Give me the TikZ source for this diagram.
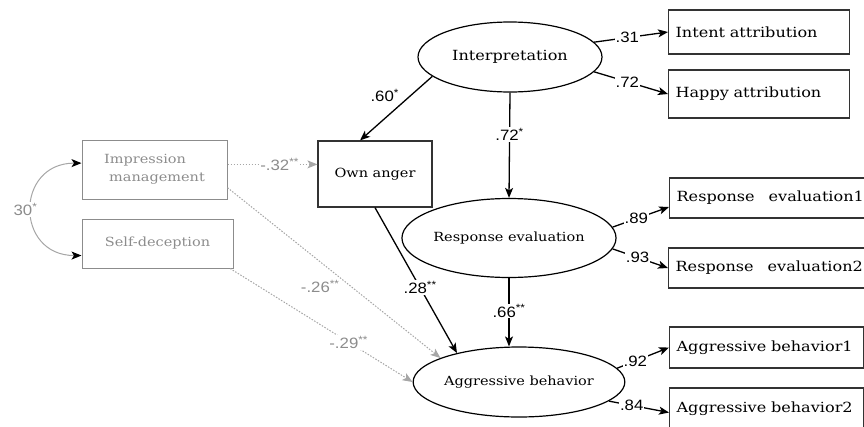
\documentclass[tikz,border=0pt]{standalone}
\usepackage{fontspec}
\newfontfamily\diagfont[FakeStretch=1.15]{DejaVu Serif}
\newfontfamily\coeffont[FakeStretch=1.12]{Liberation Sans}
\usetikzlibrary{shapes.geometric,arrows.meta}
\definecolor{faded}{gray}{0.55}
\definecolor{fadedline}{gray}{0.65}
\begin{document}
\begin{tikzpicture}[x=1pt,y=-1pt,
    latent/.style={ellipse,draw,line width=1.2pt,inner sep=0pt,font=\diagfont\fontsize{12.6}{15}\selectfont},
    mediator/.style={rectangle,draw=black!80,line width=1.2pt,font=\diagfont\fontsize{12.6}{15}\selectfont},
    observed/.style={rectangle,draw=black!80,line width=1.2pt,inner xsep=7pt,inner ysep=0pt,align=left,anchor=west,font=\diagfont\fontsize{14}{16}\selectfont},
    control/.style={rectangle,draw=faded,line width=1pt,text=faded,font=\diagfont\fontsize{12.6}{18}\selectfont},
    tip/.style={-{Stealth[length=10pt,width=8pt,inset=2.5pt]}},
    path/.style={tip,line width=1.3pt},
    weakpath/.style={tip,fadedline,line width=1pt,dash pattern=on 1.5pt off 1.5pt},
    coef/.style={font=\coeffont\fontsize{15}{17}\selectfont,fill=white,inner sep=1pt},
    weakcoef/.style={coef,text=faded}]
\useasboundingbox (0,0) rectangle (864,426);

% latent variables
\node[latent,minimum width=184,minimum height=70,font=\diagfont\fontsize{14}{16}\selectfont] (interp) at (510,57) {Interpretation};
\node[latent,minimum width=185,minimum height=79] (resp) at (509,238) {Response evaluation};
\node[latent,minimum width=182,minimum height=70] (aggr) at (519,382) {Aggressive behavior};
\node[mediator,minimum width=114,minimum height=66] (anger) at (375,174) {Own anger};

% indicators
\node[observed,text width=167,minimum height=44] (intent) at (668,32) {Intent attribution};
\node[observed,text width=167,minimum height=48] (happy) at (668,94) {Happy attribution};
\node[observed,text width=210,minimum height=40] (resp1) at (669,198) {Response\hspace{14pt}evaluation1};
\node[observed,text width=210,minimum height=40] (resp2) at (668,268) {Response\hspace{14pt}evaluation2};
\node[observed,text width=180,minimum height=41] (aggr1) at (669,347.5) {Aggressive behavior1};
\node[observed,text width=180,minimum height=41] (aggr2) at (669,408.5) {Aggressive behavior2};

% controls
\node[control,minimum width=145,minimum height=59,align=left] (impr) at (154.5,169.5) {Impression\\\hspace{5pt}management};
\node[control,minimum width=151,minimum height=49] (selfdec) at (157.5,243.5) {Self-deception};

% structural paths
\draw[path] (interp.194) -- node[coef,pos=.3,left=10pt,fill=none] {.60\textsuperscript{*}} (anger.114);
\draw[path] (interp.south) -- node[coef,pos=.4] {.72\textsuperscript{*}} (resp.north);
\draw[path] (anger.south) -- node[coef,pos=.55] {.28\textsuperscript{**}} (aggr.155);
\draw[path] (resp.south) -- node[coef,pos=.48] {.66\textsuperscript{**}} (resp.south |- aggr.north);

% loadings
\draw[path] (interp.10) -- node[coef,pos=.45] {.31} (intent.west);
\draw[path] (interp.-10) -- node[coef,pos=.45] {.72} (happy.west);
\draw[path] (resp.6) -- node[coef,pos=.42] {.89} ([yshift=-9pt]resp1.west);
\draw[path] (resp.-6) -- node[coef,pos=.45] {.93} (resp2.west);
\draw[path] (aggr.8) -- node[coef,pos=.35] {.92} (aggr1.west);
\draw[path] (aggr.-12) -- node[coef,pos=.38] {.84} ([yshift=-4pt]aggr2.west);

% controls
\draw[weakpath] (impr.4) -- node[weakcoef,pos=.58] {-.32\textsuperscript{**}} (impr.4 -| anger.west);
\draw[weakpath] (impr.-14) -- node[weakcoef,pos=.58,left=10pt,fill=none] {-.26\textsuperscript{**}} (aggr.163);
\draw[weakpath] (selfdec.-19) -- node[weakcoef,pos=.65] {-.29\textsuperscript{**}} (aggr.west);
\draw[fadedline,line width=1pt,{Stealth[black,length=10pt,width=8pt,inset=2.5pt]}-{Stealth[black,length=10pt,width=8pt,inset=2.5pt]}]
    (impr.175) to[out=180,in=180,looseness=1.85] node[weakcoef,pos=.5,xshift=-6pt] {30\textsuperscript{*}} (selfdec.189);
\end{tikzpicture}
\end{document}
